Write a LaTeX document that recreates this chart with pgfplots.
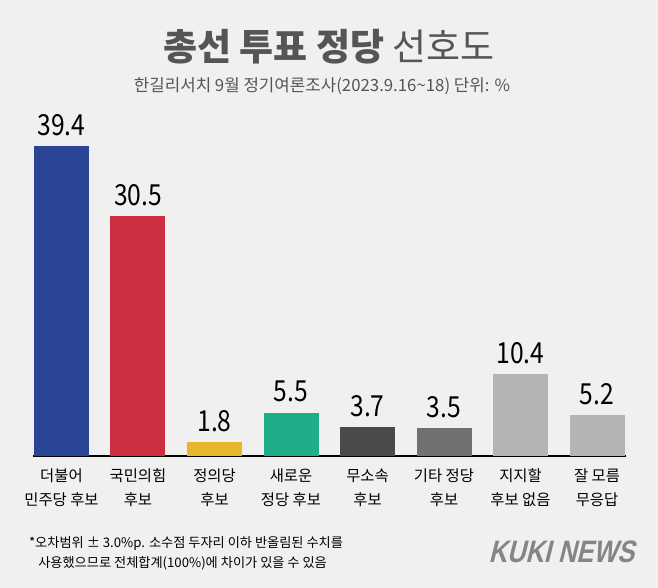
\documentclass[border=0pt]{standalone}
\usepackage{pgfplots}
\pgfplotsset{compat=1.18}
\usepackage{fontspec}
\setmainfont{Noto Sans CJK KR}
\newfontfamily\logofont{Liberation Sans}

\definecolor{bgc}{HTML}{F0F0F0}
\definecolor{cDem}{HTML}{2B4596}
\definecolor{cPpp}{HTML}{CC3040}
\definecolor{cJus}{HTML}{E8B62C}
\definecolor{cNew}{HTML}{22AD8A}
\definecolor{cInd}{HTML}{4A4A4A}
\definecolor{cOth}{HTML}{717171}
\definecolor{cNone}{HTML}{B4B4B4}
\definecolor{titlec}{HTML}{555555}
\definecolor{logoc}{HTML}{858585}

\begin{document}
\begin{tikzpicture}[x=0.5pt,y=0.5pt]
\fill[bgc] (0,0) rectangle (658,588);

\begin{axis}[
    at={(16.5pt,66pt)}, anchor=south west,
    scale only axis,
    width=296.5pt, height=157.4pt,
    xmin=-0.3725, xmax=7.379,
    ymin=0, ymax=40,
    ybar, bar width=27.5pt, bar shift=0pt,
    hide y axis,
    axis x line*=bottom,
    axis line style={black, line width=0.6pt},
    xtick={0,...,7},
    xtick style={draw=none},
    xticklabels={{더불어\\민주당 후보},{국민의힘\\후보},{정의당\\후보},{새로운\\정당 후보},{무소속\\후보},{기타 정당\\후보},{지지할\\후보 없음},{잘 모름\\무응답}},
    xticklabel style={align=center, font=\fontsize{7.7}{12}\selectfont, text=black, yshift=1.5pt},
    /pgf/number format/assume math mode=true,
    /pgf/number format/fixed, /pgf/number format/precision=1,
    nodes near coords,
    every node near coord/.append style={font=\fontsize{14.5}{16}\selectfont, text=black, inner sep=5pt, xscale=0.85},
    clip=false
]
\addplot[fill=cDem, draw=none] coordinates {(0,39.4)};
\addplot[fill=cPpp, draw=none] coordinates {(1,30.5)};
\addplot[fill=cJus, draw=none] coordinates {(2,1.8)};
\addplot[fill=cNew, draw=none] coordinates {(3,5.5)};
\addplot[fill=cInd, draw=none] coordinates {(4,3.7)};
\addplot[fill=cOth, draw=none] coordinates {(5,3.5)};
\addplot[fill=cNone, draw=none] coordinates {(6,10.4)};
\addplot[fill=cNone, draw=none] coordinates {(7,5.2)};
\end{axis}

\node[text=titlec, font=\fontsize{18.5}{22}\selectfont] at (329,541) {\textbf{총선 투표 정당} 선호도};
\node[text=titlec, font=\fontsize{8.4}{10}\selectfont] at (322,502) {한길리서치 9월 정기여론조사(2023.9.16\textasciitilde18) 단위: \%};
\node[anchor=west, align=left, text=black, font=\fontsize{6.6}{10}\selectfont] at (22,35) {*오차범위 ± 3.0\%p. 소수점 두자리 이하 반올림된 수치를\\\hspace{0.7em}사용했으므로 전체합계(100\%)에 차이가 있을 수 있음};
\node[text=logoc, font=\logofont\bfseries\fontsize{15.5}{18}\selectfont, xslant=0.25, xscale=0.82] at (564,36) {KUKI NEWS};
\end{tikzpicture}
\end{document}
